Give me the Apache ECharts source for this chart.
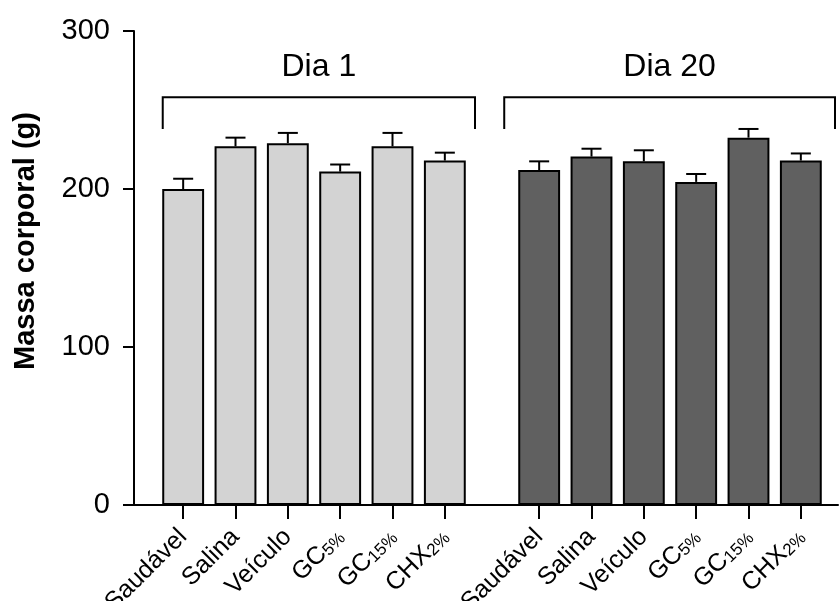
<!DOCTYPE html>
<html>
<head>
<meta charset="utf-8">
<script src="https://cdn.jsdelivr.net/npm/echarts@6/dist/echarts.min.js"></script>
<style>
  html, body { margin: 0; padding: 0; background: #fff; }
  #chart { width: 839px; height: 601px; }
</style>
</head>
<body>
<div id="chart"></div>
<script>
// Treatment groups (subscripted doses are split off in the label formatter)
const categories = ['Saudável', 'Salina', 'Veículo', 'GC5%', 'GC15%', 'CHX2%'];
const dayNames = ['Dia 1', 'Dia 20'];

// Body mass, mean and SEM (g)
const day1Mean = [200, 227, 229, 211, 227, 218];
const day1Sem  = [6.5, 5.5, 6.5, 4.5, 8.5, 5];
const day20Mean = [212, 220.5, 217.5, 204.5, 232.5, 218];
const day20Sem  = [5.5, 5, 7, 5, 5.5, 4.5];

const yTicks = [0, 100, 200, 300];

const FONT = "'Liberation Sans', Arial, Helvetica, sans-serif";
const TOP = 31, BOTTOM = 96;
const groupGrids = [
  { left: 157, width: 314 },
  { left: 513, width: 314 }
];
const fills = ['#d3d3d3', '#606060'];
// bracket geometry: level, end-drop level, title level (axis units) and pixel padding at each end
const BRACKET = { level: 258, drop: 238, title: 277 };
const bracketPad = [[-0.5, 4], [14, 8]];

function labelFormatter(v) {
  const m = /^(GC|CHX)(\d+%)$/.exec(v);
  return m ? m[1] + '{s|' + m[2] + '}' : v;
}

const chart = echarts.init(document.getElementById('chart'));

const grids = [{ left: 134, right: 1, top: TOP, bottom: BOTTOM, outerBoundsMode: 'none', containLabel: false }]
  .concat(groupGrids.map(g => ({ left: g.left, width: g.width, top: TOP, bottom: BOTTOM,
    outerBoundsMode: 'none', containLabel: false })));

const xAxes = [{
  gridIndex: 0, type: 'value', min: 0, max: 1,
  axisLine: { show: true, onZero: false, lineStyle: { color: '#000', width: 2 } },
  axisTick: { show: false }, axisLabel: { show: false }, splitLine: { show: false }
}];
const yAxes = [{
  gridIndex: 0, type: 'value', min: yTicks[0], max: yTicks[yTicks.length - 1], interval: 100,
  name: 'Massa corporal (g)', nameLocation: 'middle', nameGap: 94,
  nameTextStyle: { fontFamily: FONT, fontSize: 29, fontWeight: 'bold', color: '#000', padding: [0, 0, 0, 54] },
  axisLine: { show: true, lineStyle: { color: '#000', width: 2 } },
  axisTick: { show: true, length: 11, lineStyle: { color: '#000', width: 2 } },
  axisLabel: { fontFamily: FONT, fontSize: 29, color: '#000', margin: 24 },
  splitLine: { show: false }
}];

groupGrids.forEach((g, k) => {
  xAxes.push({
    gridIndex: k + 1, type: 'category', data: categories,
    axisLine: { show: false },
    axisTick: { show: true, alignWithLabel: true, length: 14, lineStyle: { color: '#000', width: 2 } },
    axisLabel: {
      interval: 0, rotate: 45, margin: 28, formatter: labelFormatter,
      fontFamily: FONT, fontSize: 25, color: '#000',
      rich: { s: { fontFamily: FONT, fontSize: 17, color: '#000', verticalAlign: 'bottom', lineHeight: 12 } }
    }
  });
  yAxes.push({ gridIndex: k + 1, type: 'value', min: 0, max: 300, show: false });
});

const means = [day1Mean, day20Mean];
const sems = [day1Sem, day20Sem];
const series = [];

means.forEach((mean, k) => {
  series.push({
    type: 'bar', xAxisIndex: k + 1, yAxisIndex: k + 1,
    data: mean, barCategoryGap: '20%',
    itemStyle: { color: fills[k], borderColor: '#000', borderWidth: 2 },
    silent: true, z: 2
  });
  series.push({
    type: 'custom', xAxisIndex: k + 1, yAxisIndex: k + 1, z: 3, silent: true,
    data: mean.map((m, i) => [i, m, sems[k][i]]),
    encode: { x: 0, y: 1 },
    renderItem(params, api) {
      const base = api.coord([api.value(0), api.value(1)]);
      const top = api.coord([api.value(0), api.value(1) + api.value(2)]);
      const hw = 10;
      const st = { stroke: '#000', lineWidth: 2 };
      return { type: 'group', children: [
        { type: 'line', shape: { x1: base[0], y1: base[1], x2: top[0], y2: top[1] }, style: st },
        { type: 'line', shape: { x1: top[0] - hw, y1: top[1], x2: top[0] + hw, y2: top[1] }, style: st }
      ] };
    }
  });
  // bracket spanning the group with its day title
  series.push({
    type: 'custom', xAxisIndex: k + 1, yAxisIndex: k + 1, z: 3, silent: true,
    data: [[0, categories.length - 1]],
    renderItem(params, api) {
      const band = api.size([1, 0])[0];
      const a = api.coord([api.value(0), BRACKET.level]);
      const b = api.coord([api.value(1), BRACKET.level]);
      const yDrop = api.coord([0, BRACKET.drop])[1];
      const yTitle = api.coord([0, BRACKET.title])[1];
      const x1 = a[0] - band / 2 - bracketPad[k][0] + band * 0.1;
      const x2 = b[0] + band / 2 + bracketPad[k][1];
      const st = { stroke: '#000', lineWidth: 2, fill: null };
      return { type: 'group', children: [
        { type: 'polyline', shape: { points: [[x1, yDrop], [x1, a[1]], [x2, a[1]], [x2, yDrop]] }, style: st },
        { type: 'text', style: { text: dayNames[k], x: (x1 + x2) / 2, y: yTitle, align: 'center', verticalAlign: 'middle',
          fontFamily: FONT, fontSize: 32, fill: '#000' } }
      ] };
    }
  });
});

chart.setOption({
  animation: false,
  backgroundColor: '#fff',
  grid: grids,
  xAxis: xAxes,
  yAxis: yAxes,
  series: series
});
</script>
</body>
</html>
